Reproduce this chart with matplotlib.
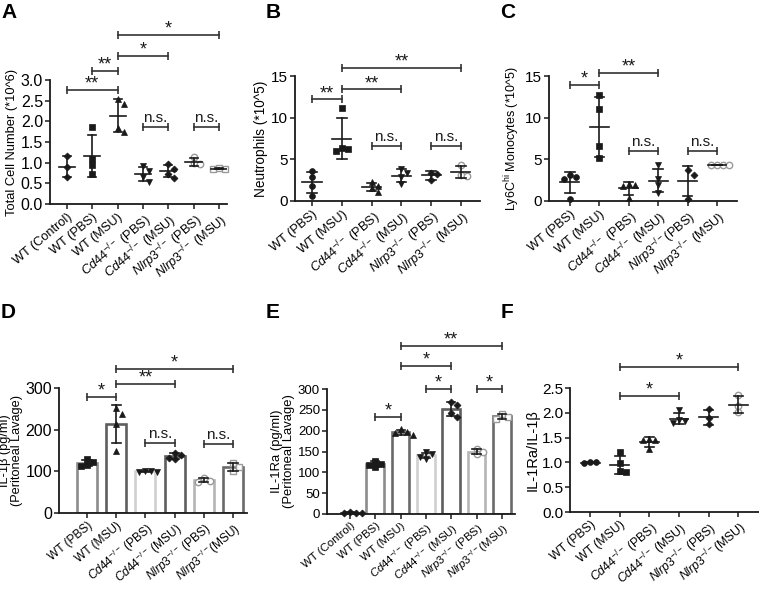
import numpy as np
import matplotlib
matplotlib.use('Agg')
import matplotlib.pyplot as plt

plt.rcParams['font.family'] = ['Liberation Sans', 'DejaVu Sans']
plt.rcParams['mathtext.fontset'] = 'custom'
plt.rcParams['mathtext.rm'] = 'Liberation Sans'
plt.rcParams['mathtext.it'] = 'Liberation Sans:italic'
plt.rcParams['mathtext.bf'] = 'Liberation Sans:bold'

CD = r'$\mathit{Cd44}^{-/-}$'
NL = r'$\mathit{Nlrp3}^{-/-}$'

# ---------------- data ----------------
labels_A = ['WT (Control)', 'WT (PBS)', 'WT (MSU)', CD + ' (PBS)', CD + ' (MSU)', NL + ' (PBS)', NL + ' (MSU)']
labels_B = ['WT (PBS)', 'WT (MSU)', CD + ' (PBS)', CD + ' (MSU)', NL + ' (PBS)', NL + ' (MSU)']
labels_C = ['WT (PBS)', 'WT (MSU)', CD + ' (PBS)', CD + ' (MSU)', NL + '(PBS)', NL + ' (MSU)']
labels_D = ['WT (PBS)', 'WT (MSU)', CD + ' (PBS)', CD + ' (MSU)', NL + ' (PBS)', NL + '(MSU)']
labels_E = ['WT (Control)', 'WT (PBS)', 'WT (MSU)', CD + ' (PBS)', CD + ' (MSU)', NL + ' (PBS)', NL + '(MSU)']
labels_F = ['WT (PBS)', 'WT (MSU)', CD + ' (PBS)', CD + ' (MSU)', NL + ' (PBS)', NL + '(MSU)']

total_cells = [[1.15, 0.90, 0.65], [1.87, 1.10, 0.94, 0.72], [2.54, 2.41, 1.83, 1.75],
               [0.92, 0.80, 0.66, 0.54], [0.96, 0.84, 0.73, 0.62], [1.13, 0.98, 0.96], [0.88, 0.85, 0.84]]
neutrophils = [[3.6, 2.9, 1.8, 0.6], [11.2, 6.4, 6.3, 6.0], [2.3, 1.8, 1.6, 1.1],
               [3.8, 3.4, 2.9, 2.1], [3.4, 3.3, 2.5], [4.3, 3.1, 3.0]]
monocytes = [[3.1, 2.9, 2.6, 0.3], [12.7, 11.0, 6.6, 5.2], [2.0, 1.9, 1.8, 0.4],
             [4.3, 2.6, 1.9, 1.0], [3.7, 3.1, 0.3], [4.32, 4.30, 4.28, 4.30]]
il1b = [[130, 122, 116, 112], [251, 238, 214, 148], [102, 100, 99, 98],
        [145, 140, 133, 130], [84, 78, 75], [120, 110, 102]]
il1ra = [[4, 3, 3, 2], [128, 121, 117, 114], [203, 198, 194, 190], [148, 144, 138, 133],
         [270, 262, 242, 234], [157, 150, 143], [241, 233, 229]]
ratio = [[1.0, 1.0, 0.99], [1.2, 0.98, 0.82, 0.81], [1.47, 1.46, 1.45, 1.27],
         [2.05, 1.86, 1.84, 1.79], [2.07, 1.89, 1.77], [2.35, 2.14, 2.01]]

sig_A = [(0, 2, 2.76, '**'), (1, 2, 3.22, '**'), (2, 4, 3.58, '*'), (2, 6, 4.09, '*'),
         (3, 4, 1.86, 'n.s.'), (5, 6, 1.86, 'n.s.')]
sig_B = [(0, 1, 12.2, '**'), (1, 3, 13.4, '**'), (1, 5, 16.0, '**'),
         (2, 3, 6.6, 'n.s.'), (4, 5, 6.6, 'n.s.')]
sig_C = [(0, 1, 13.9, '*'), (1, 3, 15.4, '**'), (2, 3, 6.0, 'n.s.'), (4, 5, 6.0, 'n.s.')]
sig_D = [(0, 1, 278, '*'), (1, 3, 310, '**'), (1, 5, 346, '*'),
         (2, 3, 168, 'n.s.'), (4, 5, 166, 'n.s.')]
sig_E = [(1, 2, 233, '*'), (3, 4, 300, '*'), (5, 6, 300, '*'), (2, 4, 355, '*'), (2, 6, 403, '**')]
sig_F = [(1, 3, 2.34, '*'), (1, 5, 2.92, '*')]

# ---------------- styles ----------------
mk_A = ['D', 's', '^', 'v', 'D', 'o', 's']; op_A = [0, 0, 0, 0, 0, 1, 1]
mk_B = ['o', 's', '^', 'v', 'D', 'o'];      op_B = [0, 0, 0, 0, 0, 1]
mk_C = ['o', 's', '^', 'v', 'D', 'o'];      op_C = [0, 0, 0, 0, 0, 1]
mk_D = ['s', '^', 'v', 'D', 'o', 's'];      op_D = [0, 0, 0, 0, 1, 1]
mk_E = ['D', 's', '^', 'v', 'D', 'o', 's']; op_E = [0, 0, 0, 0, 0, 1, 1]
mk_F = ['o', 's', '^', 'v', 'D', 'o'];      op_F = [0, 0, 0, 0, 0, 1]
bar_edge_D = ['#8c8c8c', '#5e5e5e', '#d0d0d0', '#5e5e5e', '#b5b5b5', '#6a6a6a']
bar_edge_E = ['#3a3a3a', '#8c8c8c', '#6a6a6a', '#d0d0d0', '#5e5e5e', '#b5b5b5', '#6a6a6a']

W, H = 759, 589
fig = plt.figure(figsize=(W / 100, H / 100), dpi=100)
INK = '#1a1a1a'
ROT = 40


def rect(l, b, r, t):
    return [l / W, 1 - b / H, (r - l) / W, (b - t) / H]


def setup(ax, labels, xlim, ylim, yticks, yfmt, ylabel, tick_fs, x_fs, ylab_fs=9.3):
    ax.set_xlim(*xlim)
    ax.set_ylim(*ylim)
    for s in ['top', 'right']:
        ax.spines[s].set_visible(False)
    for s in ['left', 'bottom']:
        ax.spines[s].set_linewidth(1.3)
        ax.spines[s].set_color(INK)
    ax.set_yticks(yticks)
    ax.set_yticklabels([yfmt.format(v) for v in yticks], fontsize=tick_fs)
    ax.set_xticks(range(len(labels)))
    ax.set_xticklabels(labels, rotation=ROT, ha='right', rotation_mode='anchor', fontsize=x_fs)
    ax.tick_params(axis='both', direction='out', length=3.5, width=1.1, color=INK, pad=1.5)
    ax.set_ylabel(ylabel, fontsize=ylab_fs, labelpad=2, linespacing=1.0)


def swarm(ax, x0, vals, d_px=6.0):
    pts = ax.transData.transform([(x0, v) for v in vals])
    ppu = ax.transData.transform((1, 0))[0] - ax.transData.transform((0, 0))[0]
    placed = []
    xs = []
    for (px, py) in pts:
        for k in [0, 1, -1, 2, -2, 3, -3]:
            cx = px + k * d_px
            if all((cx - qx) ** 2 + (py - qy) ** 2 >= (d_px * 0.95) ** 2 for qx, qy in placed):
                break
        placed.append((cx, py))
        xs.append(x0 + (cx - px) / ppu)
    return xs


def points(ax, data, markers, opens, ms=4.2):
    for i, vals in enumerate(data):
        xs = swarm(ax, i, vals)
        m = markers[i]
        size = ms * (0.85 if m == 'D' else 1.0)
        if opens[i]:
            ax.plot(xs, vals, ls='none', marker=m, ms=size + 0.4, mfc='white', mec='#9a9a9a',
                    mew=1.0, zorder=4, clip_on=False)
        else:
            ax.plot(xs, vals, ls='none', marker=m, ms=size, mfc=INK, mec=INK, mew=0.5,
                    zorder=4, clip_on=False)


def mean_sd(ax, data, mean_line=True, mhw=0.32, chw=0.16):
    for i, vals in enumerate(data):
        m = np.mean(vals)
        sd = np.std(vals, ddof=1)
        ax.plot([i, i], [m - sd, m + sd], color=INK, lw=1.2, zorder=5)
        for y in (m - sd, m + sd):
            ax.plot([i - chw, i + chw], [y, y], color=INK, lw=1.2, zorder=5)
        if mean_line:
            ax.plot([i - mhw, i + mhw], [m, m], color=INK, lw=1.2, zorder=5)


def bars(ax, data, edges, width=0.7):
    means = [np.mean(v) for v in data]
    ax.bar(range(len(data)), means, width=width, facecolor='white', edgecolor=edges,
           linewidth=1.9, zorder=2)


def brackets(ax, sigs, star_fs=13, ns_fs=11):
    for i, j, y, t in sigs:
        ax.plot([i, j], [y, y], color='#333333', lw=1.2, clip_on=False, zorder=6)
        ax.plot([i, j], [y, y], ls='none', marker='|', ms=6, mew=1.2, color='#333333',
                clip_on=False, zorder=6)
        if t == 'n.s.':
            ax.annotate(t, ((i + j) / 2, y), xytext=(0, 1.5), textcoords='offset points',
                        ha='center', va='bottom', fontsize=ns_fs, color=INK, annotation_clip=False)
        else:
            ax.annotate(t, ((i + j) / 2, y), xytext=(0, -2), textcoords='offset points',
                        ha='center', va='bottom', fontsize=star_fs, color=INK, annotation_clip=False)


# ---------------- panel A ----------------
axA = fig.add_axes(rect(50, 204, 227, 80))
setup(axA, labels_A, (-0.67, 6.32), (0, 3.0), np.arange(0, 3.01, 0.5), '{:.1f}',
      'Total Cell Number (*10^6)', 11.5, 9.2)
points(axA, total_cells, mk_A, op_A)
mean_sd(axA, total_cells)
brackets(axA, sig_A)

# ---------------- panel B ----------------
axB = fig.add_axes(rect(295, 201, 480, 76))
setup(axB, labels_B, (-0.57, 5.64), (0, 15), [0, 5, 10, 15], '{:d}',
      'Neutrophils (*10^5)', 11, 9.2, ylab_fs=9.8)
points(axB, neutrophils, mk_B, op_B)
mean_sd(axB, neutrophils)
brackets(axB, sig_B)

# ---------------- panel C ----------------
axC = fig.add_axes(rect(549, 201, 737, 76))
setup(axC, labels_C, (-0.71, 5.68), (0, 15), [0, 5, 10, 15], '{:d}',
      r'Ly6C$^{\mathrm{hi}}$ Monocytes (*10^5)', 11, 9.2, ylab_fs=9.0)
points(axC, monocytes, mk_C, op_C)
mean_sd(axC, monocytes)
brackets(axC, sig_C)

# ---------------- panel D ----------------
axD = fig.add_axes(rect(59, 513, 247, 388))
setup(axD, labels_D, (-0.96, 5.48), (0, 300), [0, 100, 200, 300], '{:d}',
      'IL-1\u03b2 (pg/ml)\n(Peritoneal Lavage)', 11.5, 8.6, ylab_fs=9.2)
bars(axD, il1b, bar_edge_D, width=0.68)
points(axD, il1b, mk_D, op_D)
mean_sd(axD, il1b, mean_line=False, chw=0.16)
brackets(axD, sig_D)

# ---------------- panel E ----------------
axE = fig.add_axes(rect(327, 514, 515, 389))
setup(axE, labels_E, (-0.91, 6.52), (0, 300), list(range(0, 301, 50)), '{:d}',
      'IL-1Ra (pg/ml)\n(Peritoneal Lavage)', 9.5, 8.2, ylab_fs=9.4)
bars(axE, il1ra, bar_edge_E, width=0.7)
points(axE, il1ra, mk_E, op_E)
mean_sd(axE, il1ra, mean_line=False, chw=0.16)
brackets(axE, sig_E)

# ---------------- panel F ----------------
axF = fig.add_axes(rect(570, 512, 759, 388))
setup(axF, labels_F, (-0.68, 5.7), (0, 2.5), np.arange(0, 2.51, 0.5), '{:.1f}',
      'IL-1Ra/IL-1\u03b2', 11, 8.8, ylab_fs=10.5)
points(axF, ratio, mk_F, op_F)
mean_sd(axF, ratio)
brackets(axF, sig_F)

# panel letters
for txt, x, y in [('A', 1, 3), ('B', 266, 3), ('C', 500, 3),
                  ('D', 1, 303), ('E', 266, 303), ('F', 501, 303)]:
    fig.text(x / W, 1 - y / H, txt, fontsize=15, fontweight='bold', ha='left', va='top')

fig.savefig('out.png', dpi=100)
